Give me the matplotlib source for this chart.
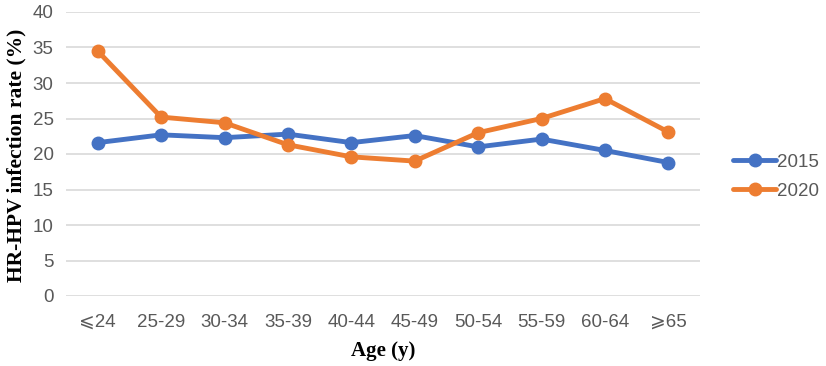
import matplotlib
matplotlib.use('Agg')
import matplotlib.pyplot as plt

ages = ['⩽24', '25-29', '30-34', '35-39', '40-44', '45-49', '50-54', '55-59', '60-64', '⩾65']
rate2015 = [21.6, 22.7, 22.3, 22.8, 21.6, 22.6, 21.0, 22.1, 20.5, 18.8]
rate2020 = [34.5, 25.2, 24.4, 21.3, 19.6, 19.0, 23.0, 25.0, 27.8, 23.1]

plt.rcParams['font.family'] = ['Liberation Sans', 'DejaVu Sans']

fig = plt.figure(figsize=(8.26, 3.66), dpi=100)
ax = fig.add_axes([66/826, 1-296/366, (700-66)/826, 284/366])

x = list(range(len(ages)))
ax.plot(x, rate2015, color='#4472C4', lw=3.5, marker='o', ms=9, label='2015', solid_capstyle='round')
ax.plot(x, rate2020, color='#ED7D31', lw=3.5, marker='o', ms=9, label='2020', solid_capstyle='round')

ax.set_xlim(-0.5, len(ages) - 0.5)
ax.set_ylim(0, 40)
ax.set_yticks(range(0, 41, 5))
ax.set_xticks(x)
ax.set_xticklabels(ages)
ax.grid(axis='y', color='#D9D9D9', lw=1.2)
ax.set_axisbelow(True)
for s in ax.spines.values():
    s.set_visible(False)
ax.tick_params(length=0, colors='#595959', labelsize=13.5)
ax.tick_params(axis='x', pad=13)
ax.tick_params(axis='y', pad=9)

ax.set_ylabel('HR-HPV infection rate (%)', family='Liberation Serif', fontweight='bold', fontsize=15.5)
ax.yaxis.set_label_coords(-0.062, 0.495)
ax.set_xlabel('Age (y)', family='Liberation Serif', fontweight='bold', fontsize=15)
ax.xaxis.set_label_coords(0.5, -0.158)

leg = ax.legend(loc='center left', bbox_to_anchor=(1.052, 0.42), frameon=False, fontsize=13.5,
                handlelength=2.3, labelspacing=0.65, handletextpad=0.05,
                borderaxespad=0, borderpad=0)
for t in leg.get_texts():
    t.set_color('#595959')

fig.savefig('out.png', dpi=100)
